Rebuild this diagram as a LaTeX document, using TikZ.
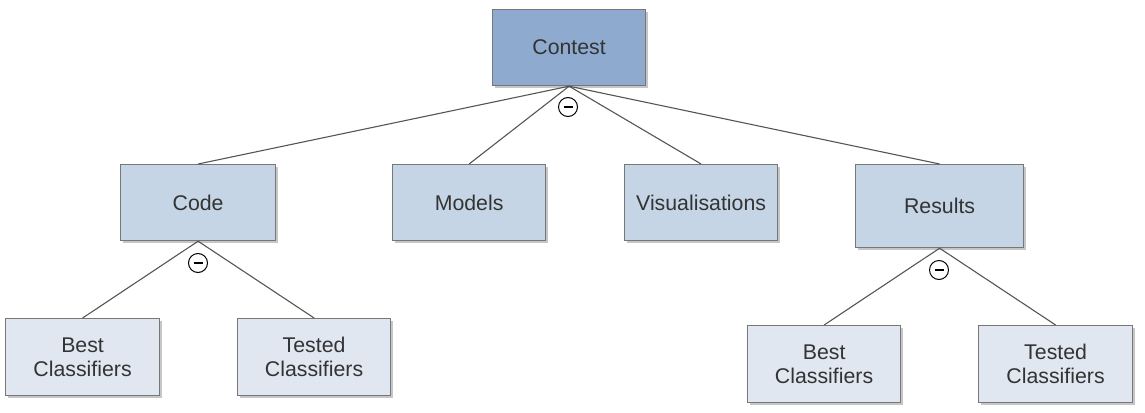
\documentclass[tikz,border=0pt]{standalone}
\usepackage{fontspec}
\setmainfont{Liberation Sans}
\usetikzlibrary{shadows}
\definecolor{topc}{HTML}{8EABCF}
\definecolor{midc}{HTML}{C5D5E5}
\definecolor{lowc}{HTML}{E0E7F1}
\definecolor{edgec}{HTML}{777777}
\definecolor{txtc}{HTML}{333333}
\definecolor{linec}{HTML}{555555}
\begin{document}
\begin{tikzpicture}[x=1pt,y=-1pt,
  box/.style={draw=edgec,line width=1.2pt,anchor=north west,inner sep=0pt,align=center,
    text=txtc,font=\fontsize{21.3}{24}\selectfont,
    drop shadow={shadow xshift=2.5pt,shadow yshift=-2.5pt,opacity=0.45,fill=gray}},
  conn/.style={draw=linec,line width=1.1pt},
  minus/.style={circle,draw=black,line width=1pt,minimum size=19pt,inner sep=0pt}]
\useasboundingbox (0,0) rectangle (1145,412);
\node[box,fill=topc,minimum width=153pt,minimum height=76pt] (contest) at (492,9) {Contest};
\node[box,fill=midc,minimum width=155pt,minimum height=76pt] (code) at (120,164) {Code};
\node[box,fill=midc,minimum width=153pt,minimum height=76pt] (models) at (392,164) {Models};
\node[box,fill=midc,minimum width=153pt,minimum height=76pt] (vis) at (624,164) {Visualisations};
\node[box,fill=midc,minimum width=168pt,minimum height=83pt] (results) at (855,164) {Results};
\node[box,fill=lowc,minimum width=154pt,minimum height=77pt] (bc1) at (5,318) {Best\\Classifiers};
\node[box,fill=lowc,minimum width=153pt,minimum height=77pt] (tc1) at (237,318) {Tested\\Classifiers};
\node[box,fill=lowc,minimum width=153pt,minimum height=77pt] (bc2) at (747,325) {Best\\Classifiers};
\node[box,fill=lowc,minimum width=154pt,minimum height=77pt] (tc2) at (978,325) {Tested\\Classifiers};
\draw[conn] (contest.south) -- (code.north);
\draw[conn] (contest.south) -- (models.north);
\draw[conn] (contest.south) -- (vis.north);
\draw[conn] (contest.south) -- (results.north);
\draw[conn] (code.south) -- (bc1.north);
\draw[conn] (code.south) -- (tc1.north);
\draw[conn] (results.south) -- (bc2.north);
\draw[conn] (results.south) -- (tc2.north);
\node[minus] (m1) at (568,107) {};
\node[minus] (m2) at (198,263) {};
\node[minus] (m3) at (939,270) {};
\foreach \m in {m1,m2,m3} \draw[line width=1.6pt] ([xshift=-4.5pt]\m.center) -- ([xshift=4.5pt]\m.center);
\end{tikzpicture}
\end{document}
